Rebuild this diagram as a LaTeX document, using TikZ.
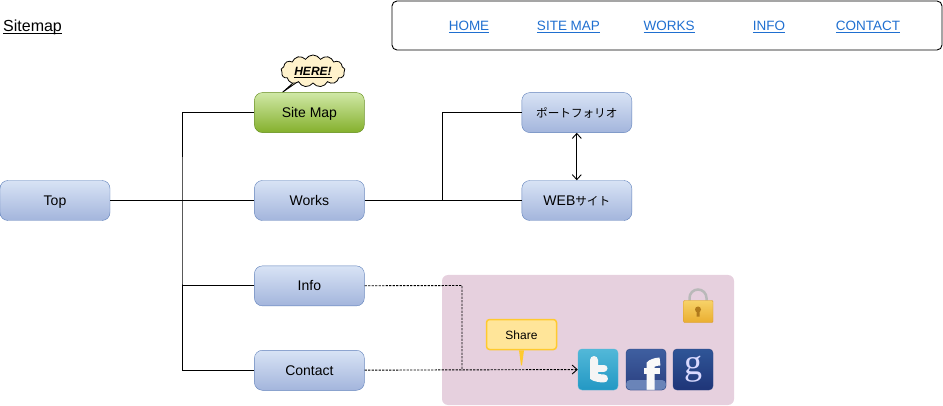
\documentclass[tikz,border=0pt]{standalone}
\usepackage{fontspec}
\setmainfont{Liberation Sans}
\newfontfamily\jpfont{Noto Sans CJK JP}
\newfontfamily\gfont{Liberation Serif}
\usetikzlibrary{shapes.symbols, arrows.meta, positioning, backgrounds}
\definecolor{boxline}{HTML}{5F80BA}
\definecolor{boxtop}{HTML}{D8E3F5}
\definecolor{boxbottom}{HTML}{A3B5DC}
\definecolor{greenline}{HTML}{5F8A14}
\definecolor{greentop}{HTML}{D0E8A6}
\definecolor{greenbottom}{HTML}{84B02C}
\definecolor{panelfill}{HTML}{E6D0DE}
\definecolor{navlink}{HTML}{1F6FD0}
\definecolor{sharefill}{HTML}{FFE599}
\definecolor{shareline}{HTML}{FFCA2E}
\definecolor{herefill}{HTML}{FFF2CC}
\definecolor{twtop}{HTML}{52B8D8}
\definecolor{twbottom}{HTML}{2398C4}
\definecolor{fbtop}{HTML}{3F5FA0}
\definecolor{fbbottom}{HTML}{2A3F80}
\definecolor{fbstrip}{HTML}{6A84B8}
\definecolor{gotop}{HTML}{2F5597}
\definecolor{gobottom}{HTML}{1F3578}
\definecolor{iconline}{HTML}{2A4583}
\definecolor{locktop}{HTML}{F7D268}
\definecolor{lockbottom}{HTML}{EAAE30}
\definecolor{lockline}{HTML}{D99A2B}
\definecolor{lockhole}{HTML}{B07A1C}
\newcommand{\jptext}[1]{{\jpfont\fontsize{11.6}{14}\selectfont #1}}

\begin{document}
\begin{tikzpicture}[x=1pt, y=1pt, node distance=45pt and 144pt, every node/.style={font=\fontsize{14}{16}\selectfont}]
\tikzstyle{pagebox} = [rectangle, rounded corners=8pt, minimum width=110pt, minimum height=40pt, inner sep=0pt, text height=10pt, text depth=0pt, text centered, draw=boxline, top color=boxtop, bottom color=boxbottom]
\tikzstyle{herebox} = [pagebox, draw=greenline, top color=greentop, bottom color=greenbottom]
\tikzstyle{navlabel} = [text=navlink, font=\fontsize{13.5}{16}\selectfont, text height=10pt, text depth=0pt]
\tikzstyle{iconbox} = [rectangle, rounded corners=4pt, minimum width=40pt, minimum height=41pt, inner sep=0pt, text=white]
\tikzstyle{link} = [line width=0.9pt]
\tikzstyle{dashlink} = [line width=0.9pt, dash pattern=on 2.2pt off 1.3pt]
\tikzstyle{arrow} = [line width=0.9pt, {Straight Barb[length=5pt,width=9pt]}-{Straight Barb[length=5pt,width=9pt]}]
\useasboundingbox (0,0) rectangle (943,-406);

% Header
\node (title) [font=\fontsize{16}{18}\selectfont, anchor=west, inner sep=0pt, text height=12pt, text depth=0pt] at (3,-26) {\underline{\smash{Sitemap}}};
\node (nav) [rectangle, rounded corners=5pt, draw=black, line width=0.9pt, minimum width=550pt, minimum height=49pt] at (667,-25.5) {};
\node (home) [navlabel] at (469,-26) {\underline{HOME}};
\node (sitemaplink) [navlabel] at (568.5,-26) {\underline{SITE MAP}};
\node (workslink) [navlabel] at (669,-26) {\underline{WORKS}};
\node (infolink) [navlabel] at (769,-26) {\underline{INFO}};
\node (contactlink) [navlabel] at (868,-26) {\underline{CONTACT}};

% Share panel
\node (panel) [rectangle, rounded corners=6pt, fill=panelfill, minimum width=292pt, minimum height=130pt] at (588,-340) {};

% Left column and middle column
\node (top) [pagebox] at (55,-200.5) {Top};
\node (works) [pagebox, right=of top] {Works};
\node (sitemap) [herebox, above=47.5pt of works] {Site Map};
\node (info) [pagebox, below=of works] {Info};
\node (contact) [pagebox, below=44pt of info] {Contact};

% Right column
\node (web) [pagebox, right=157pt of works] {WEB\jptext{サイト}};
\node (portfolio) [pagebox, above=47.5pt of web] {\jptext{ポートフォリオ}};

% Icons
\node (twitter) [iconbox, draw=twtop, top color=twtop, bottom color=twbottom, path picture={\draw[white!92!gray, line width=8pt, line cap=round] (-4,9.5) -- (-4,-3) to[out=-90, in=180] (6,-9); \draw[white!92!gray, line width=7pt, line cap=round] (-4,1.5) -- (6,1.5);}] at (598,-369.5) {};
\node (facebook) [iconbox, draw=iconline, top color=fbtop, bottom color=fbbottom, path picture={\fill[fbstrip] (path picture bounding box.south west) rectangle ([yshift=10pt]path picture bounding box.south east); \draw[white!95!gray, line width=8pt] (4.5,-23) -- (4.5,1) to[out=90, in=180] (14,8); \draw[white!95!gray, line width=6pt] (-2,-1.5) -- (14,-1.5);}] at (646,-369.5) {};
\node (google) [iconbox, draw=iconline, top color=gotop, bottom color=gobottom, text=white!85!blue, font=\gfont\fontsize{36}{36}\selectfont] at (693,-369.5) {g};

% Share bubble
\node (share) [rectangle, rounded corners=3pt, draw=shareline, line width=1.5pt, fill=sharefill, minimum width=70pt, minimum height=30pt, font=\fontsize{12}{14}\selectfont, text height=9pt, text depth=0pt] at (521.5,-334.5) {Share};
\fill[shareline] ([xshift=-2.5pt]share.south) -- ++(2,-15) -- ++(1,0) -- ([xshift=2.5pt]share.south) -- cycle;

% Lock
\draw[gray!55, line width=2.5pt] (689.5,-301) -- (689.5,-298) arc (180:0:8.5) -- (706.5,-301);
\draw[lockline, rounded corners=1pt, top color=locktop, bottom color=lockbottom] (683.5,-300.5) rectangle (713,-322.5);
\fill[lockhole] (698,-309.5) circle (3) ++(-1.5,-2) rectangle ++(3,-5);

% Here cloud
\node (here) [cloud, cloud puffs=13, cloud puff arc=120, aspect=2.2, draw=black, line width=0.8pt, fill=herefill, minimum width=64pt, minimum height=32pt, inner sep=0pt, font=\bfseries\itshape\fontsize{12}{14}\selectfont, text height=9pt, text depth=0pt] at (313,-71) {\underline{HERE!}};
\begin{scope}[on background layer]
\draw[fill=herefill, line width=0.8pt] (here.center) ++(-20,-12) -- ([xshift=-27pt]sitemap.north) -- (here.center) ++(-16,-14) -- cycle;
\end{scope}

% Solid lines
\coordinate (trunk) at (182,-200.5);
\coordinate (fork) at (442,-200.5);
\draw [link] (top) -- (works);
\draw [link] (sitemap) -| (trunk) |- (contact);
\draw [link] (info) -- (info -| trunk);
\draw [link] (works) -- (web);
\draw [link] (portfolio) -| (fork);

% Arrow between the two right boxes
\draw [arrow] (portfolio) -- (web);

% Dashed lines to the icons
\coordinate (drop) at (462,-285.5);
\draw [dashlink] (info) -- (drop) -- (drop |- contact);
\draw [dashlink, -{Straight Barb[length=5pt,width=9pt]}] (contact) -- (twitter);

\end{tikzpicture}
\end{document}
